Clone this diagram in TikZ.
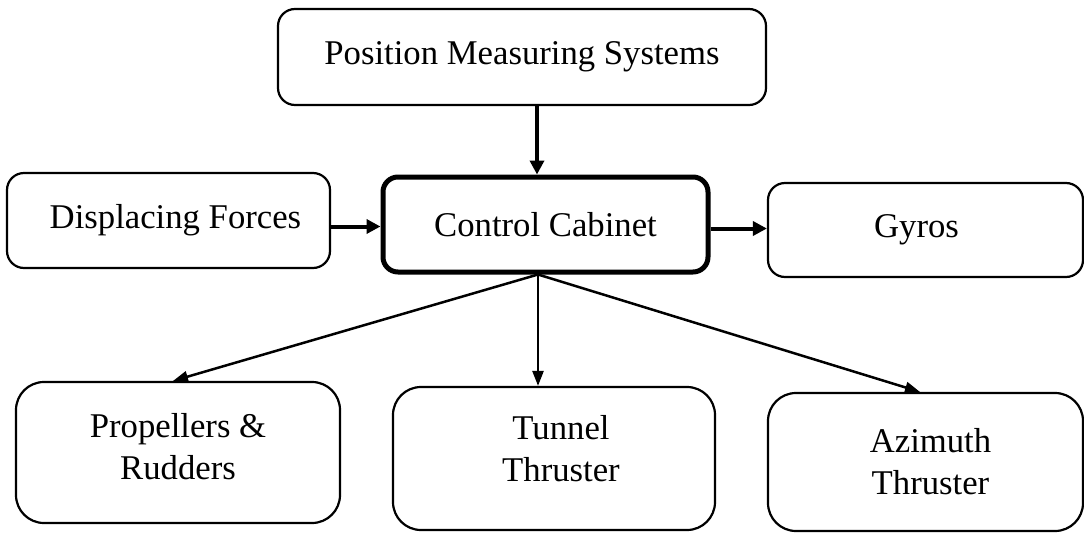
\documentclass[tikz,border=0pt]{standalone}
\usepackage{fontspec}
\setmainfont{Liberation Serif}
\usetikzlibrary{arrows.meta}
\begin{document}
\begin{tikzpicture}[x=1pt,y=-1pt,
  box/.style={draw, line width=2.2pt, rounded corners=17pt, align=center, inner sep=0pt,
    font=\fontsize{34.7}{42}\selectfont},
  bigbox/.style={box, rounded corners=28pt},
  thickarr/.style={line width=4pt, -{Triangle[length=14pt,width=14pt]}},
  thinarr/.style={line width=2.5pt, -{Triangle[length=15pt,width=11pt]}}
]
\useasboundingbox (0,0) rectangle (1084,533);
\node[box, minimum width=488pt, minimum height=96pt] (pms) at (522,57) {Position Measuring Systems};
\node[box, minimum width=323pt, minimum height=95pt] (dis) at (168.5,220.5) {\hspace*{14pt}Displacing Forces};
\node[box, line width=5pt, rounded corners=15pt, minimum width=325pt, minimum height=95pt] (cc) at (545.5,224.5) {Control Cabinet};
\node[box, minimum width=315pt, minimum height=94pt] (gyr) at (925.5,230) {Gyros\hspace*{18pt}};
\node[bigbox, minimum width=324pt, minimum height=141pt] (pro) at (178,452.5) {Propellers \&\\Rudders\\[-30pt]};
\node[bigbox, minimum width=322pt, minimum height=143pt] (tun) at (554,458.5) {\hspace*{14pt}Tunnel\\\hspace*{14pt}Thruster\\[-22pt]};
\node[bigbox, minimum width=315pt, minimum height=138pt] (azi) at (925.5,462) {\hspace*{10pt}Azimuth\\\hspace*{10pt}Thruster};
\coordinate (apex) at ([xshift=-7.5pt]cc.south);
\draw[thickarr] ([xshift=-8.5pt]cc.north |- pms.south) -- ([xshift=-8.5pt]cc.north);
\draw[thickarr] ([yshift=-6pt]dis.east) -- ([yshift=-6pt]dis.east -| cc.west);
\draw[thickarr] ([yshift=-4pt]cc.east) -- ([yshift=-4pt]cc.east -| gyr.west);
\draw[thinarr] (apex) -- ([xshift=-5pt]pro.north);
\draw[thinarr] (apex) -- (apex |- tun.north);
\draw[thinarr] (apex) -- ([xshift=-5.5pt]azi.north);
\end{tikzpicture}
\end{document}
